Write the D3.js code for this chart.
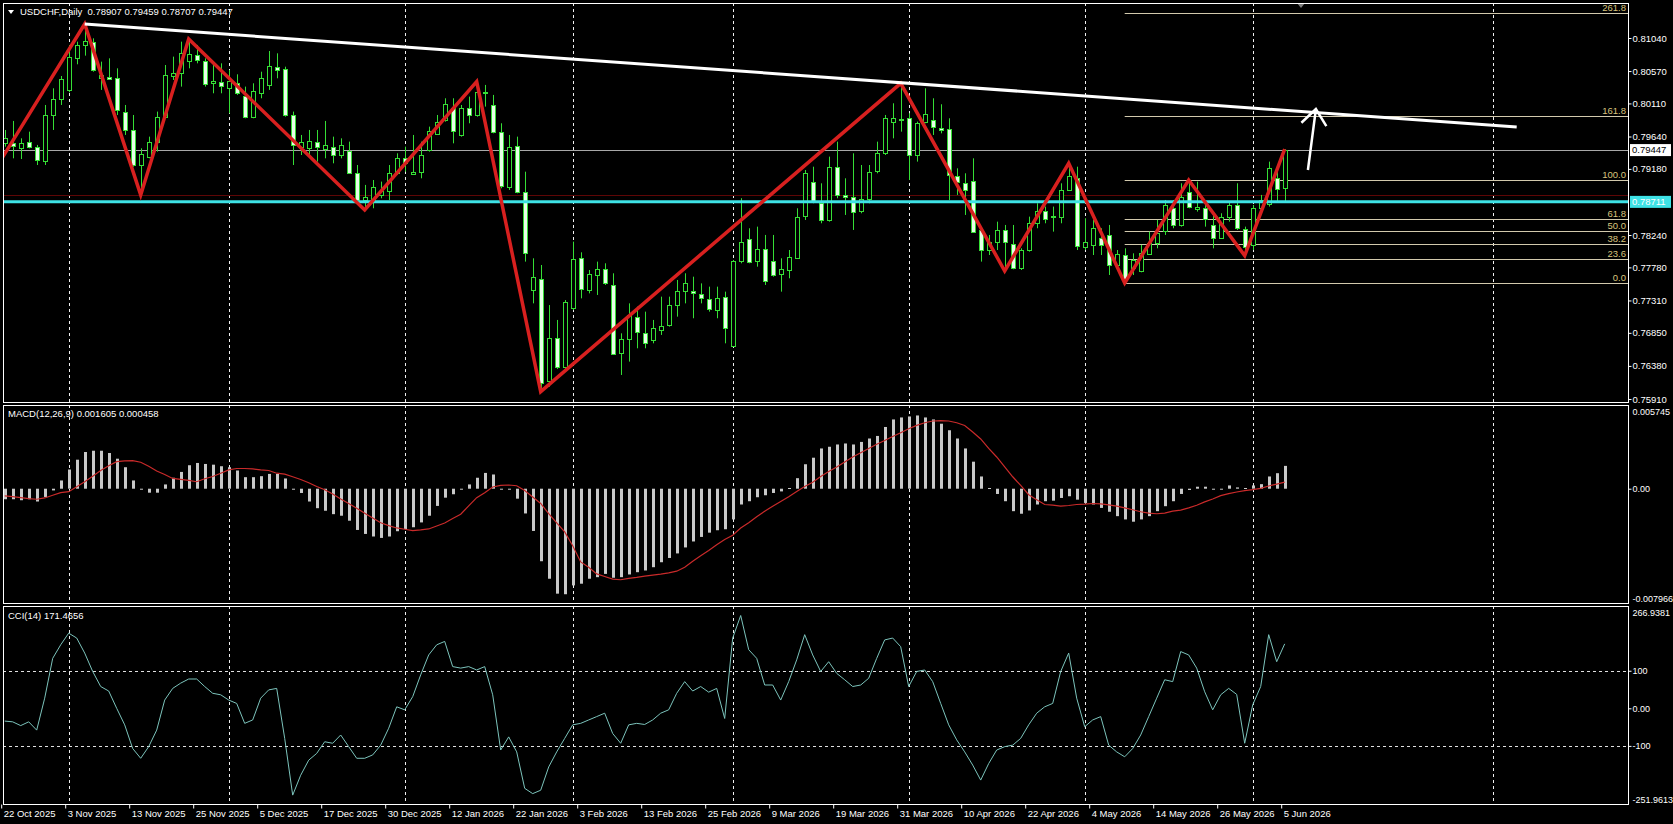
<!DOCTYPE html>
<html>
<head>
<meta charset="utf-8">
<script src="https://cdn.jsdelivr.net/npm/d3@7"></script>
<style>
  body { margin: 0; background: #000; }
  svg { display: block; }
  text { font-family: "Liberation Sans", Arial, sans-serif; font-size: 9.5px; fill: #fff; }
  .axis line { stroke: #fff; }
  .axis text { fill: #fff; font-family: "Liberation Sans", Arial, sans-serif; font-size: 9.5px; }
  .axis.narrow text { font-size: 9px; }
</style>
</head>
<body>
<div id="myChart"></div>
<script>
// ---- data (USDCHF daily, bar 0 = 22 Oct 2025) ----
const dateLabels = ["22 Oct 2025", "3 Nov 2025", "13 Nov 2025", "25 Nov 2025", "5 Dec 2025",
  "17 Dec 2025", "30 Dec 2025", "12 Jan 2026", "22 Jan 2026", "3 Feb 2026", "13 Feb 2026",
  "25 Feb 2026", "9 Mar 2026", "19 Mar 2026", "31 Mar 2026", "10 Apr 2026", "22 Apr 2026",
  "4 May 2026", "14 May 2026", "26 May 2026", "5 Jun 2026"];
const labelBars = [0, 8, 16, 24, 32, 40, 48, 56, 64, 72, 80, 88, 96, 104, 112, 120, 128, 136, 144, 152, 160];
const gridBars = [8, 28, 50, 71, 91, 113, 135, 156, 186];

const opens = [0.79543,0.79543,0.79482,0.79567,0.79487,0.79297,0.79946,0.80174,0.80302,0.80760,
  0.80941,0.80988,0.80467,0.80490,0.80467,0.79994,0.79733,0.79226,0.79354,0.79567,
  0.79922,0.80500,0.80538,0.80713,0.80798,0.80718,0.80396,0.80420,0.80335,0.80396,
  0.80216,0.79922,0.80254,0.80373,0.80632,0.80599,0.79946,0.79496,0.79472,0.79558,
  0.79463,0.79496,0.79377,0.79434,0.79126,0.78748,0.78738,0.78810,0.78857,0.79117,
  0.79330,0.79117,0.79140,0.79448,0.79685,0.79875,0.80041,0.79671,0.80051,0.79946,
  0.80268,0.80088,0.79700,0.78928,0.79510,0.78857,0.77459,0.77610,0.76156,0.76772,
  0.76355,0.77198,0.77909,0.77459,0.77672,0.77753,0.77530,0.76559,0.76763,0.77080,
  0.76843,0.76749,0.76891,0.76962,0.77245,0.77435,0.77444,0.77397,0.77326,0.77174,
  0.77354,0.76668,0.77871,0.78179,0.77862,0.78037,0.77876,0.77682,0.77753,0.77923,
  0.78501,0.78999,0.78691,0.78454,0.79211,0.78810,0.78786,0.78573,0.78753,0.79140,
  0.79401,0.79842,0.79889,0.79908,0.79377,0.79851,0.79875,0.79766,0.79747,0.79084,
  0.78975,0.79008,0.78312,0.78027,0.78146,0.78312,0.78108,0.77767,0.78027,0.78407,
  0.78582,0.78511,0.78501,0.78881,0.79046,0.78075,0.78099,0.78203,0.78241,0.77814,
  0.77956,0.77767,0.77719,0.77980,0.78122,0.78298,0.78620,0.78383,0.78857,0.78620,
  0.78630,0.78383,0.78203,0.78501,0.78667,0.78326,0.78099,0.78620,0.78677,0.79055,
  0.78907];
const highs = [0.79733,0.79861,0.79614,0.79709,0.79520,0.80088,0.80325,0.80500,0.80941,0.80988,
  0.81239,0.81035,0.80704,0.80751,0.80609,0.80088,0.79946,0.79472,0.79638,0.79994,
  0.80656,0.80775,0.80988,0.81026,0.80941,0.80751,0.80704,0.80680,0.80585,0.80524,
  0.80349,0.80396,0.80561,0.80855,0.80822,0.80632,0.79994,0.79662,0.79733,0.79733,
  0.79861,0.79638,0.79614,0.79567,0.79235,0.78952,0.79022,0.78999,0.79235,0.79401,
  0.79496,0.79662,0.79567,0.79780,0.79946,0.80183,0.80183,0.80088,0.80207,0.80420,
  0.80373,0.80231,0.79828,0.79662,0.79638,0.79140,0.77909,0.77814,0.77245,0.77033,
  0.77316,0.78146,0.77994,0.77743,0.77862,0.77838,0.77696,0.76843,0.77269,0.77222,
  0.77151,0.77033,0.77364,0.77364,0.77601,0.77696,0.77648,0.77553,0.77506,0.77506,
  0.77435,0.77885,0.78763,0.78336,0.78359,0.78241,0.78241,0.77909,0.78027,0.78620,
  0.79164,0.79211,0.78975,0.79354,0.79567,0.79046,0.79401,0.79235,0.79235,0.79567,
  0.79946,0.80112,0.80396,0.79970,0.79851,0.80325,0.80183,0.80098,0.79899,0.79188,
  0.79117,0.79330,0.78336,0.78241,0.78430,0.78383,0.78383,0.78051,0.78501,0.78691,
  0.78644,0.78644,0.78975,0.79259,0.79211,0.78478,0.78454,0.78336,0.78383,0.78027,
  0.78051,0.77980,0.78099,0.78288,0.78454,0.78738,0.78738,0.78975,0.79022,0.78999,
  0.78715,0.78525,0.78549,0.78715,0.78975,0.78359,0.78667,0.78810,0.79283,0.79140,
  0.79459];
const lows = [0.79496,0.79330,0.79320,0.79472,0.79235,0.79235,0.79733,0.80088,0.80268,0.80666,
  0.80789,0.80561,0.80302,0.80443,0.79946,0.79662,0.79211,0.78810,0.79330,0.79425,
  0.79899,0.80443,0.80349,0.80609,0.80680,0.80349,0.80254,0.80254,0.79970,0.80231,
  0.79899,0.79899,0.80183,0.80302,0.80467,0.79922,0.79235,0.79377,0.79354,0.79283,
  0.79330,0.79259,0.79330,0.79117,0.78715,0.78596,0.78620,0.78762,0.78738,0.79093,
  0.79140,0.79093,0.79046,0.79425,0.79662,0.79851,0.79543,0.79638,0.79828,0.79922,
  0.80065,0.79685,0.78904,0.78881,0.78833,0.77862,0.77269,0.76014,0.76085,0.76336,
  0.76336,0.77174,0.77340,0.77411,0.77388,0.77530,0.76535,0.76251,0.76441,0.76630,
  0.76630,0.76701,0.76820,0.76938,0.77080,0.77269,0.77057,0.77269,0.77151,0.77057,
  0.76701,0.76654,0.77838,0.77838,0.77790,0.77530,0.77648,0.77435,0.77625,0.77909,
  0.78454,0.78691,0.78407,0.78430,0.78762,0.78525,0.78312,0.78549,0.78691,0.79117,
  0.79377,0.79614,0.79709,0.79022,0.79283,0.79828,0.79662,0.79685,0.78738,0.78810,
  0.78525,0.78279,0.77862,0.77956,0.78027,0.77729,0.77753,0.77743,0.78004,0.78336,
  0.78407,0.78288,0.78407,0.78866,0.78027,0.78027,0.77956,0.77956,0.77672,0.77767,
  0.77558,0.77672,0.77710,0.77956,0.78051,0.78241,0.78336,0.78359,0.78620,0.78573,
  0.78359,0.78051,0.78184,0.78430,0.78312,0.77947,0.78027,0.78573,0.78644,0.78715,
  0.78707];
const closes = [0.79614,0.79496,0.79553,0.79496,0.79297,0.79946,0.80169,0.80452,0.80775,0.80941,
  0.81002,0.80585,0.80514,0.80457,0.80017,0.79733,0.79235,0.79387,0.79567,0.79922,
  0.80514,0.80538,0.80822,0.80808,0.80727,0.80396,0.80429,0.80358,0.80429,0.80254,
  0.79922,0.80287,0.80467,0.80642,0.80595,0.79946,0.79520,0.79567,0.79577,0.79482,
  0.79520,0.79377,0.79520,0.79126,0.78738,0.78786,0.78928,0.78866,0.79117,0.79330,
  0.79259,0.79140,0.79377,0.79719,0.79851,0.80098,0.79709,0.80051,0.79946,0.80278,
  0.80254,0.79700,0.78928,0.79496,0.78857,0.77994,0.77639,0.76132,0.76772,0.76355,
  0.77283,0.77899,0.77473,0.77682,0.77753,0.77553,0.76545,0.76763,0.77104,0.76867,
  0.76701,0.76915,0.76952,0.77245,0.77444,0.77553,0.77411,0.77340,0.77189,0.77340,
  0.76915,0.77876,0.78146,0.77852,0.78037,0.77577,0.77672,0.77753,0.77933,0.78501,
  0.79117,0.78715,0.78454,0.79202,0.78819,0.78786,0.78573,0.78748,0.79131,0.79401,
  0.79899,0.79899,0.79875,0.79387,0.79828,0.79961,0.79771,0.79733,0.79093,0.78999,
  0.78881,0.78288,0.78027,0.78146,0.78312,0.78146,0.77767,0.78027,0.78407,0.78582,
  0.78468,0.78492,0.78881,0.79079,0.78075,0.78146,0.78336,0.78099,0.77814,0.77966,
  0.77601,0.77885,0.77980,0.78132,0.78264,0.78667,0.78373,0.78786,0.78644,0.78644,
  0.78478,0.78203,0.78501,0.78667,0.78336,0.78075,0.78620,0.78738,0.79188,0.78904,
  0.79447];

// zigzag pivots (first one sits left of the visible area)
const zzBars = [-3, 10, 17, 23, 45, 59, 67, 112, 125, 133, 140, 148, 155, 160];
const zzPrices = [0.78840, 0.81239, 0.78810, 0.81026, 0.78596, 0.80420, 0.76014, 0.80396,
  0.77729, 0.79259, 0.77558, 0.79022, 0.77947, 0.79459];

// white trend line and arrow
const trendBars = [10, 189];
const trendPrices = [0.81239, 0.79775];
const arrowBars = [162.9, 163.9];
const arrowPrices = [0.79164, 0.80031];

// fibonacci retracement, from the 8 May low to the 19 May high
const fibStartBar = 140;
const fibLow = 0.77558;
const fibHigh = 0.79022;
const fibLevels = [0, 23.6, 38.2, 50, 61.8, 100, 161.8, 261.8];

const bidPrice = 0.79447;
const hLinePrice = 0.78711;
const darkLinePrice = 0.78809;
const priceTicks = [0.81040, 0.80570, 0.80110, 0.79640, 0.79180, 0.78240, 0.77780, 0.77310, 0.76850, 0.76380, 0.75910];

const macdMain = [-0.00074,-0.00074,-0.00081,-0.00074,-0.00090,-0.00058,-0.00012,0.00058,0.00135,0.00204,
  0.00258,0.00267,0.00267,0.00251,0.00211,0.00151,0.00058,0.00000,-0.00028,-0.00028,
  0.00030,0.00077,0.00118,0.00165,0.00181,0.00174,0.00169,0.00158,0.00151,0.00128,
  0.00081,0.00081,0.00088,0.00104,0.00104,0.00072,-0.00005,-0.00030,-0.00090,-0.00137,
  -0.00155,-0.00179,-0.00190,-0.00225,-0.00290,-0.00318,-0.00336,-0.00346,-0.00336,-0.00299,
  -0.00283,-0.00271,-0.00237,-0.00190,-0.00121,-0.00063,-0.00039,0.00000,0.00030,0.00077,
  0.00111,0.00100,0.00000,-0.00007,-0.00070,-0.00174,-0.00297,-0.00510,-0.00633,-0.00738,
  -0.00742,-0.00680,-0.00668,-0.00633,-0.00622,-0.00599,-0.00626,-0.00622,-0.00603,-0.00587,
  -0.00575,-0.00552,-0.00517,-0.00487,-0.00455,-0.00413,-0.00371,-0.00339,-0.00309,-0.00292,
  -0.00285,-0.00216,-0.00111,-0.00088,-0.00060,-0.00046,-0.00030,-0.00019,0.00005,0.00074,
  0.00172,0.00218,0.00283,0.00295,0.00311,0.00318,0.00311,0.00329,0.00353,0.00371,
  0.00434,0.00487,0.00501,0.00508,0.00515,0.00501,0.00487,0.00457,0.00411,0.00353,
  0.00283,0.00190,0.00086,0.00005,-0.00037,-0.00088,-0.00158,-0.00176,-0.00153,-0.00111,
  -0.00088,-0.00084,-0.00065,-0.00053,-0.00077,-0.00100,-0.00111,-0.00135,-0.00162,-0.00193,
  -0.00216,-0.00232,-0.00216,-0.00193,-0.00158,-0.00123,-0.00088,-0.00037,-0.00009,0.00014,
  0.00014,0.00000,0.00000,0.00023,0.00009,0.00005,0.00023,0.00032,0.00086,0.00109,
  0.001605];
const macdSignal = [-0.00051,-0.00056,-0.00063,-0.00070,-0.00074,-0.00065,-0.00046,-0.00028,-0.00021,0.00014,
  0.00049,0.00088,0.00128,0.00162,0.00190,0.00195,0.00197,0.00186,0.00158,0.00125,
  0.00100,0.00072,0.00065,0.00058,0.00049,0.00070,0.00086,0.00109,0.00132,0.00142,
  0.00142,0.00139,0.00132,0.00128,0.00109,0.00102,0.00084,0.00065,0.00042,0.00016,
  -0.00007,-0.00037,-0.00072,-0.00104,-0.00137,-0.00172,-0.00206,-0.00239,-0.00260,-0.00276,
  -0.00285,-0.00295,-0.00290,-0.00283,-0.00262,-0.00241,-0.00209,-0.00179,-0.00121,-0.00063,
  -0.00028,0.00012,0.00023,0.00026,0.00021,-0.00012,-0.00058,-0.00104,-0.00176,-0.00241,
  -0.00304,-0.00401,-0.00515,-0.00552,-0.00599,-0.00617,-0.00636,-0.00640,-0.00631,-0.00624,
  -0.00615,-0.00608,-0.00601,-0.00592,-0.00580,-0.00552,-0.00510,-0.00471,-0.00434,-0.00394,
  -0.00357,-0.00327,-0.00276,-0.00239,-0.00197,-0.00158,-0.00123,-0.00090,-0.00056,-0.00019,
  0.00016,0.00046,0.00086,0.00121,0.00153,0.00188,0.00223,0.00253,0.00283,0.00313,
  0.00339,0.00367,0.00394,0.00422,0.00445,0.00464,0.00476,0.00478,0.00476,0.00464,
  0.00445,0.00399,0.00350,0.00283,0.00223,0.00153,0.00084,0.00023,-0.00042,-0.00077,
  -0.00111,-0.00116,-0.00123,-0.00118,-0.00111,-0.00109,-0.00104,-0.00107,-0.00114,-0.00123,
  -0.00135,-0.00148,-0.00162,-0.00172,-0.00176,-0.00172,-0.00158,-0.00151,-0.00135,-0.00116,
  -0.00093,-0.00072,-0.00049,-0.00035,-0.00023,-0.00014,-0.00007,0.00002,0.00019,0.00032,
  0.000458];
const cciValues = [-34,-36,-46,-36,-58,27,133,169,200,187,
  147,98,58,46,0,-44,-107,-133,-102,-58,
  22,53,67,78,78,58,40,36,22,13,
  -40,-31,27,49,53,-80,-231,-178,-138,-120,
  -89,-93,-71,-102,-133,-133,-124,-98,-53,4,
  -4,31,89,142,169,178,111,107,111,102,
  111,36,-111,-76,-116,-213,-227,-218,-156,-116,
  -80,-44,-40,-31,-22,-13,-67,-93,-44,-40,
  -43,-31,-13,-4,40,71,46,58,43,53,
  -27,187,247,156,133,62,62,22,71,129,
  196,142,98,124,93,76,58,62,80,133,
  182,187,164,58,98,102,71,13,-44,-84,
  -116,-151,-191,-147,-111,-102,-98,-80,-44,-13,
  4,13,98,147,27,-49,-31,-22,-98,-116,
  -129,-107,-71,-22,27,76,71,151,142,107,
  44,-4,36,53,37,-93,9,58,196,124,
  171.4656];
const macdTicks = [0.005745, 0, -0.007966];
const cciTicks = [266.9381, 100, 0, -100, -251.9613];
const cciLevels = [100, -100];

// ---- layout ----
const width = 1673;
const height = 824;
const plotLeft = 3;
const plotRight = 1628;
const panes = {
  main: { top: 3, bottom: 402 },
  macd: { top: 405, bottom: 603 },
  cci: { top: 606, bottom: 804 },
};

const xScale = d3.scaleLinear().domain([0, 203]).range([4.7, 4.7 + 8 * 203]);
const yMain = d3.scaleLinear().domain([0.75867, 0.81523]).range([402, 4]);
const yMacd = d3.scaleLinear().domain([-0.007966, 0.005745]).range([602, 407]);
const yCci = d3.scaleLinear().domain([-251.9613, 266.9381]).range([803, 608]);
const px = (i) => Math.round(xScale(i)) + 0.5; // crisp 1px lines

const bullFill = "#000";
const bearFill = "#e8ffe8";
const candleStroke = "#35de35";

const svg = d3
  .select("#myChart")
  .append("svg")
  .attr("width", width)
  .attr("height", height)
  .style("background", "#000");

// clip each pane
const defs = svg.append("defs");
Object.entries(panes).forEach(([key, p]) => {
  defs
    .append("clipPath")
    .attr("id", "clip-" + key)
    .append("rect")
    .attr("x", plotLeft + 1)
    .attr("y", p.top + 1)
    .attr("width", plotRight - plotLeft - 1)
    .attr("height", p.bottom - p.top - 1);
});

// vertical dashed grid through all panes
Object.entries(panes).forEach(([key, p]) => {
  svg
    .append("g")
    .attr("clip-path", `url(#clip-${key})`)
    .selectAll("line")
    .data(gridBars)
    .enter()
    .append("line")
    .attr("x1", (d) => px(d))
    .attr("x2", (d) => px(d))
    .attr("y1", p.top)
    .attr("y2", p.bottom)
    .style("stroke", "#f0f0f0")
    .style("stroke-dasharray", "3,3")
    .style("shape-rendering", "crispEdges");
});

// ---- main pane ----
const main = svg.append("g").attr("clip-path", "url(#clip-main)");

// fibonacci levels
const fibPrice = (lvl) => fibLow + ((fibHigh - fibLow) * lvl) / 100;
main
  .selectAll(".fib")
  .data(fibLevels)
  .enter()
  .append("line")
  .attr("class", "fib")
  .attr("x1", xScale(fibStartBar))
  .attr("x2", plotRight)
  .attr("y1", (d) => Math.round(yMain(fibPrice(d))) + 0.5)
  .attr("y2", (d) => Math.round(yMain(fibPrice(d))) + 0.5)
  .style("stroke", "#d2c9ad")
  .style("stroke-width", 1);

main
  .selectAll(".fib-label")
  .data(fibLevels)
  .enter()
  .append("text")
  .attr("class", "fib-label")
  .attr("x", plotRight - 2)
  .attr("y", (d) => yMain(fibPrice(d)) - 2)
  .attr("text-anchor", "end")
  .style("fill", "#d8c47e")
  .text((d) => d.toFixed(1));

// dark red and bid lines
main
  .append("line")
  .attr("x1", plotLeft)
  .attr("x2", plotRight)
  .attr("y1", Math.round(yMain(darkLinePrice)) + 0.5)
  .attr("y2", Math.round(yMain(darkLinePrice)) + 0.5)
  .style("stroke", "#5e0606");
main
  .append("line")
  .attr("x1", plotLeft)
  .attr("x2", plotRight)
  .attr("y1", Math.round(yMain(bidPrice)) + 0.5)
  .attr("y2", Math.round(yMain(bidPrice)) + 0.5)
  .style("stroke", "#a8a8a8");

// candles
const bars = d3.range(opens.length);
const candles = main.selectAll(".candle").data(bars).enter().append("g").attr("class", "candle");
candles
  .append("line")
  .attr("x1", (i) => px(i))
  .attr("x2", (i) => px(i))
  .attr("y1", (i) => yMain(highs[i]))
  .attr("y2", (i) => yMain(lows[i]))
  .style("stroke", candleStroke);
candles
  .append("rect")
  .attr("x", (i) => px(i) - 2)
  .attr("width", 4)
  .attr("y", (i) => Math.round(yMain(Math.max(opens[i], closes[i]))) + 0.5)
  .attr("height", (i) => Math.max(0.5, Math.round(Math.abs(yMain(opens[i]) - yMain(closes[i])))))
  .style("fill", (i) => (closes[i] >= opens[i] ? bullFill : bearFill))
  .style("stroke", candleStroke)
  .style("shape-rendering", "crispEdges");

// horizontal cyan level
main
  .append("line")
  .attr("x1", plotLeft)
  .attr("x2", plotRight)
  .attr("y1", yMain(hLinePrice))
  .attr("y2", yMain(hLinePrice))
  .style("stroke", "#3ee2e6")
  .style("stroke-width", 3);

// zigzag
const zzLine = d3
  .line()
  .x((d) => xScale(d[0]))
  .y((d) => yMain(d[1]));
main
  .append("path")
  .attr("d", zzLine(zzBars.map((b, i) => [b, zzPrices[i]])))
  .style("fill", "none")
  .style("stroke", "#d8201f")
  .style("stroke-width", 3.5)
  .style("stroke-linejoin", "miter");

// trend line
main
  .append("line")
  .attr("x1", xScale(trendBars[0]))
  .attr("y1", yMain(trendPrices[0]))
  .attr("x2", xScale(trendBars[1]))
  .attr("y2", yMain(trendPrices[1]))
  .style("stroke", "#fff")
  .style("stroke-width", 3);

// arrow
const tail = [xScale(arrowBars[0]), yMain(arrowPrices[0])];
const tip = [xScale(arrowBars[1]), yMain(arrowPrices[1])];
const ang = Math.atan2(tail[1] - tip[1], tail[0] - tip[0]);
const wing = (a) => [tip[0] + 20 * Math.cos(ang + a), tip[1] + 20 * Math.sin(ang + a)];
main
  .append("path")
  .attr("d", `M${tail}L${tip}M${wing(0.68)}L${tip}L${wing(-0.68)}`)
  .style("fill", "none")
  .style("stroke", "#fff")
  .style("stroke-width", 2.5);

// header
svg.append("path").attr("d", "M8,10L14,10L11,14Z").style("fill", "#fff");
svg
  .append("text")
  .attr("x", 20)
  .attr("y", 15)
  .attr("xml:space", "preserve")
  .text("USDCHF,Daily  0.78907 0.79459 0.78707 0.79447");
svg.append("path").attr("d", "M1297,3L1305,3L1301,8Z").style("fill", "#7a7a7a");

// ---- MACD pane ----
const macd = svg.append("g").attr("clip-path", "url(#clip-macd)");
macd
  .selectAll("rect")
  .data(bars)
  .enter()
  .append("rect")
  .attr("x", (i) => Math.round(xScale(i)) - 1)
  .attr("width", 3)
  .attr("y", (i) => yMacd(Math.max(0, macdMain[i])))
  .attr("height", (i) => Math.max(1, Math.abs(yMacd(macdMain[i]) - yMacd(0))))
  .style("fill", "#c8c8c8");
macd
  .append("path")
  .attr("d", d3.line().x((i) => xScale(i)).y((i) => yMacd(macdSignal[i]))(bars))
  .style("fill", "none")
  .style("stroke", "#c92a2a")
  .style("stroke-width", 1.2);
svg.append("text").attr("x", 8).attr("y", 417).text("MACD(12,26,9) 0.001605 0.000458");

// ---- CCI pane ----
const cci = svg.append("g").attr("clip-path", "url(#clip-cci)");
cci
  .selectAll("line")
  .data(cciLevels)
  .enter()
  .append("line")
  .attr("x1", plotLeft)
  .attr("x2", plotRight)
  .attr("y1", (d) => Math.round(yCci(d)) + 0.5)
  .attr("y2", (d) => Math.round(yCci(d)) + 0.5)
  .style("stroke", "#e0e0e0")
  .style("stroke-dasharray", "3,3");
cci
  .append("path")
  .attr("d", d3.line().x((i) => xScale(i)).y((i) => yCci(cciValues[i]))(bars))
  .style("fill", "none")
  .style("stroke", "#7cc4bc")
  .style("stroke-width", 1);
svg.append("text").attr("x", 8).attr("y", 619).text("CCI(14) 171.4656");

// ---- frames ----
Object.values(panes).forEach((p) => {
  svg
    .append("rect")
    .attr("x", plotLeft + 0.5)
    .attr("y", p.top + 0.5)
    .attr("width", plotRight - plotLeft)
    .attr("height", p.bottom - p.top)
    .style("fill", "none")
    .style("stroke", "#fff");
});

// ---- axes ----
const mainAxis = svg
  .append("g")
  .attr("class", "axis")
  .attr("transform", `translate(${plotRight + 0.5},0)`)
  .call(d3.axisRight(yMain).tickValues(priceTicks).tickSize(3).tickSizeOuter(0).tickPadding(1).tickFormat(d3.format(".5f")));
mainAxis.select(".domain").remove();

const macdAxis = svg
  .append("g")
  .attr("class", "axis narrow")
  .attr("transform", `translate(${plotRight + 0.5},0)`)
  .call(d3.axisRight(yMacd).tickValues(macdTicks).tickSize(3).tickSizeOuter(0).tickPadding(1)
    .tickFormat((d) => (d === 0 ? "0.00" : d.toFixed(6))));
macdAxis.select(".domain").remove();
macdAxis.selectAll(".tick").filter((d) => d !== 0).select("line").remove();
macdAxis.selectAll(".tick text").attr("dy", (d) => (d > 0 ? "0.85em" : d < 0 ? "-0.1em" : "0.32em"));

const cciAxis = svg
  .append("g")
  .attr("class", "axis narrow")
  .attr("transform", `translate(${plotRight + 0.5},0)`)
  .call(d3.axisRight(yCci).tickValues(cciTicks).tickSize(3).tickSizeOuter(0).tickPadding(1)
    .tickFormat((d) => (d === 0 ? "0.00" : Number.isInteger(d) ? d : d.toFixed(4))));
cciAxis.select(".domain").remove();
cciAxis.selectAll(".tick").filter((d) => Math.abs(d) > 200).select("line").remove();
cciAxis.selectAll(".tick text").attr("dy", (d) => (d > 200 ? "0.85em" : d < -200 ? "-0.05em" : "0.32em"));

const xAxis = svg
  .append("g")
  .attr("class", "axis")
  .attr("transform", `translate(-3.5,${panes.cci.bottom + 0.5})`)
  .call(d3.axisBottom(xScale).tickValues(labelBars).tickSize(4).tickSizeOuter(0).tickPadding(2)
    .tickFormat((d, i) => dateLabels[i]));
xAxis.select(".domain").remove();
xAxis.selectAll(".tick text").attr("text-anchor", "start").attr("x", 2);

// price labels on the right scale
const tags = [
  { price: bidPrice, fill: "#fff", color: "#000" },
  { price: hLinePrice, fill: "#3ee2e6", color: "#fff" },
];
tags.forEach((t) => {
  const y = yMain(t.price);
  svg.append("rect").attr("x", 1630).attr("y", y - 6).attr("width", 41).attr("height", 12).style("fill", t.fill);
  svg
    .append("text")
    .attr("x", 1632)
    .attr("y", y)
    .attr("dy", "0.35em")
    .style("fill", t.color)
    .text(t.price.toFixed(5));
});
</script>
</body>
</html>
